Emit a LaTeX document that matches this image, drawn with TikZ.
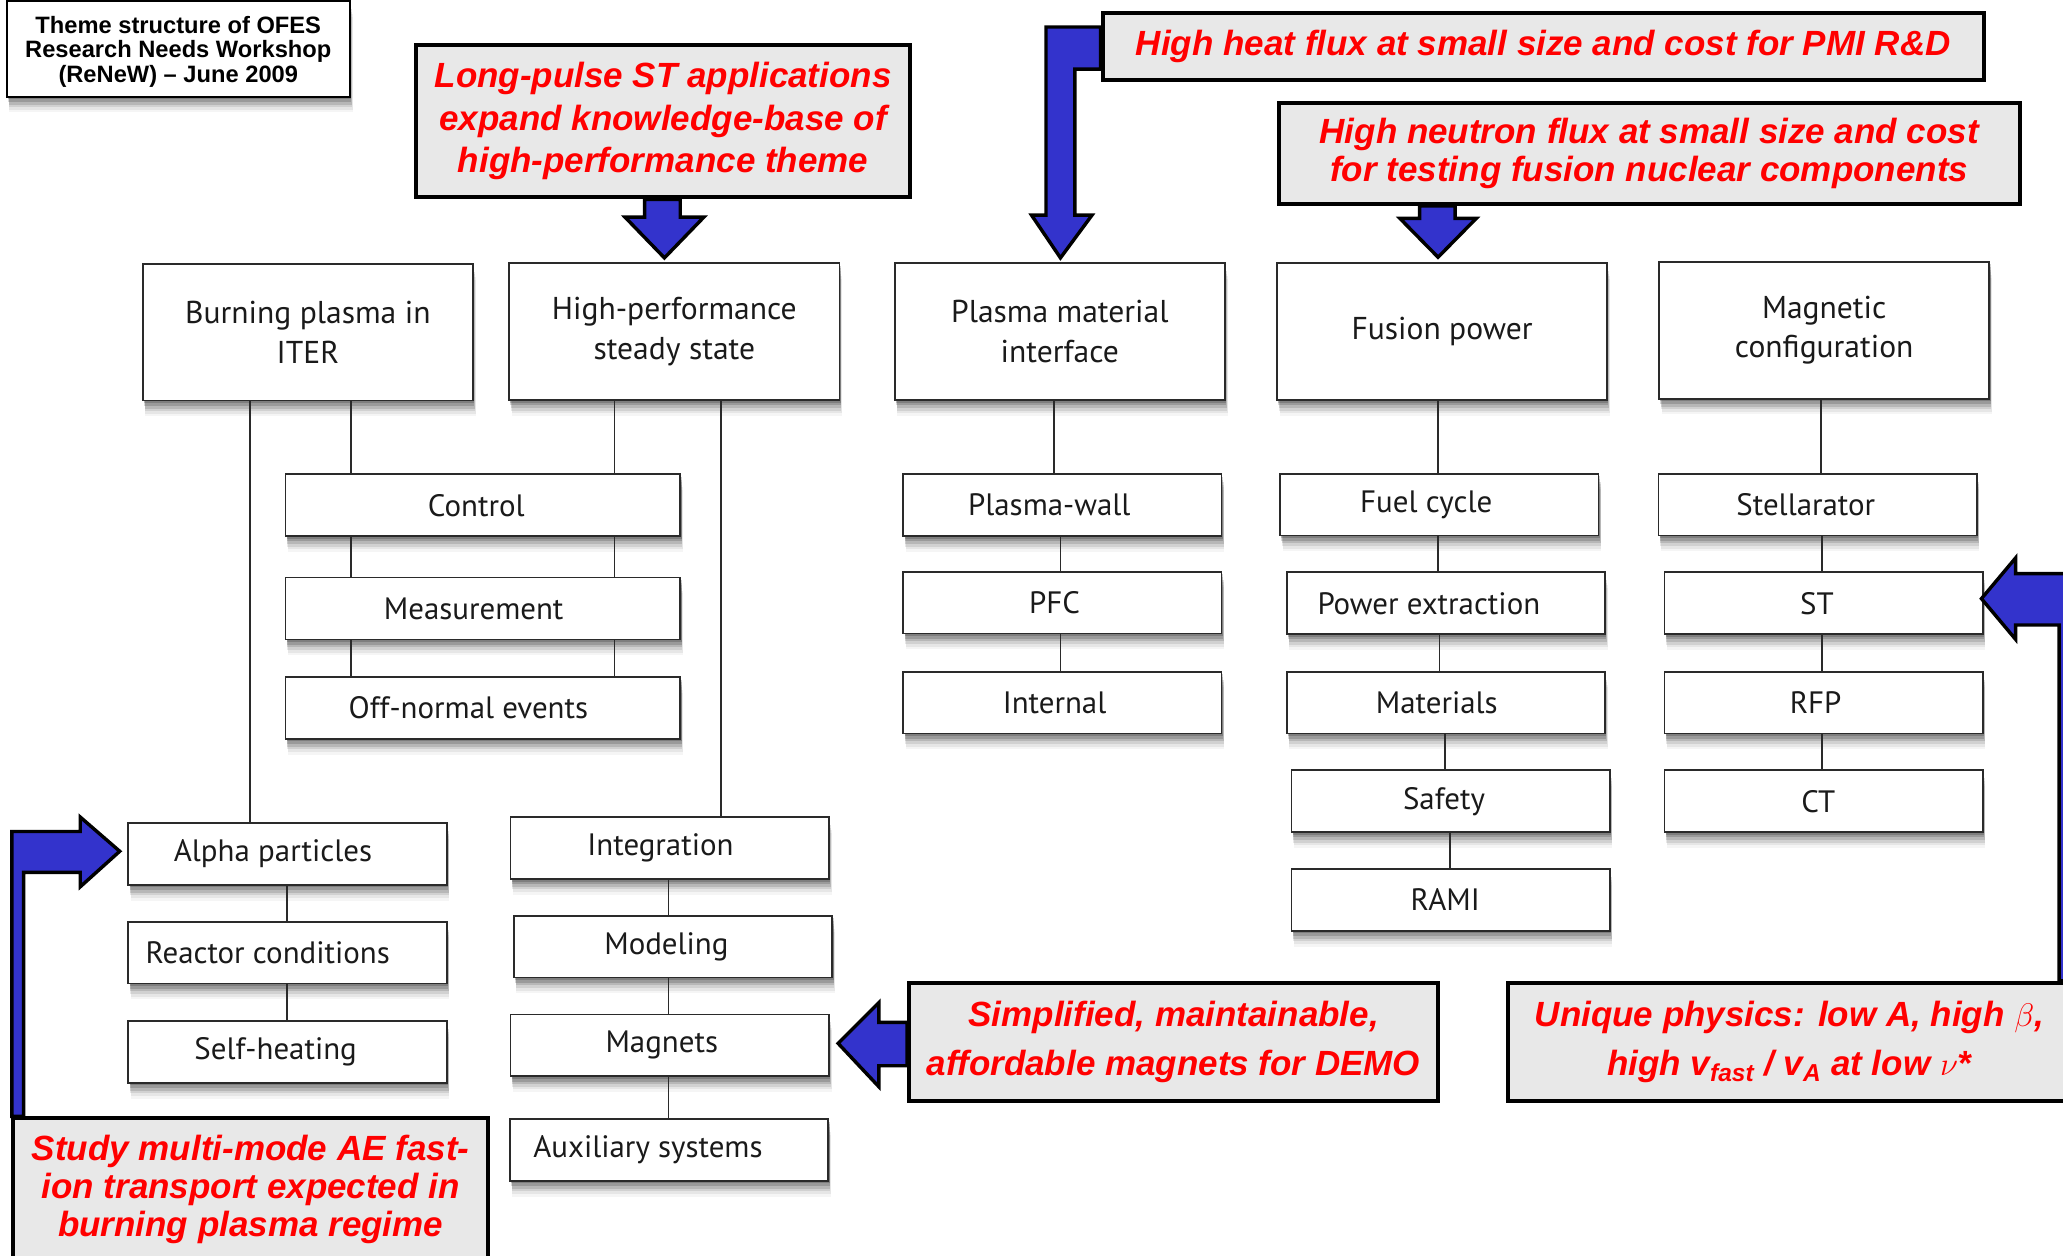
\documentclass[tikz,border=0pt]{standalone}
\usepackage{fontspec}
\setmainfont{PT Sans}
\newfontfamily\notefont{Liberation Sans}
\usepackage{tikz}
\usetikzlibrary{shadows}

\definecolor{arrowblue}{HTML}{3333CC}
\definecolor{notegray}{HTML}{E8E8E8}
\definecolor{boxline}{HTML}{2A2A2A}
\definecolor{boxtext}{HTML}{1A1A1A}

\tikzset{
  boxshadow/.style={drop shadow={shadow xshift=1pt, shadow yshift=-2pt, opacity=.18, fill=black},
                    drop shadow={shadow xshift=1pt, shadow yshift=-4pt, opacity=.15, fill=black},
                    drop shadow={shadow xshift=1.5pt, shadow yshift=-6pt, opacity=.12, fill=black},
                    drop shadow={shadow xshift=1.5pt, shadow yshift=-8pt, opacity=.09, fill=black},
                    drop shadow={shadow xshift=2pt, shadow yshift=-10pt, opacity=.06, fill=black},
                    drop shadow={shadow xshift=2pt, shadow yshift=-12pt, opacity=.04, fill=black}},
  theme/.style={draw=boxline, line width=1.3pt, fill=white, boxshadow, text=boxtext,
                minimum width=251pt, minimum height=104pt, inner sep=0pt, align=center,
                font=\fontsize{24}{30}\selectfont},
  topic/.style={draw=boxline, line width=1.3pt, fill=white, boxshadow, text=boxtext,
                minimum width=242pt, minimum height=47pt, inner sep=0pt,
                font=\fontsize{23.5}{28}\selectfont},
  note/.style={draw=black, line width=3pt, fill=notegray, text=red, inner sep=0pt, align=center,
               font=\notefont\bfseries\itshape\fontsize{26.6}{#1}\selectfont},
  note/.default=32,
  bluearrow/.style={fill=arrowblue, draw=black, line width=2.6pt, line join=miter}
}

\begin{document}
\begin{tikzpicture}[x=1pt, y=-1pt]
   \useasboundingbox (0,0) rectangle (1568,954);
   \clip (0,0) rectangle (1568,954);
   \fill [white] (0,0) rectangle (1568,954);

   \node (title) [draw=black, line width=1.5pt, fill=white, boxshadow, minimum width=261pt,
      minimum height=72.5pt, inner sep=0pt, align=center,
      font=\notefont\bfseries\fontsize{18}{18.7}\selectfont] at (135.5,37.25)
      {\rule{0pt}{17pt}Theme structure of OFES\\Research Needs Workshop\\(ReNeW) – June 2009};

   \begin{scope}[every node/.style={theme}]
    \node (burn) at (234,252.5) {Burning plasma in\\ITER};
    \node (hpss) at (512.5,252) {High-performance\\steady state};
    \node (pmi)  at (805.5,252) {Plasma material\\interface};
    \node (fus)  at (1096,252) {Fusion power};
    \node (mag)  at (1386.5,251) {Magnetic\\configuration};
   \end{scope}

   \begin{scope}[every node/.style={topic}]
    \node (ctrl) [minimum width=300pt] at (367,384) {Control\hspace*{10pt}};
    \node (meas) [minimum width=300pt] at (367,462.5) {Measurement\hspace*{14pt}};
    \node (offn) [minimum width=300pt] at (367,538) {Off-normal events\hspace*{22pt}};
    \node (alpha) at (218.5,649) {Alpha particles\hspace*{22pt}};
    \node (react) at (218.5,724) {Reactor conditions\hspace*{30pt}};
    \node (selfh) at (218.5,799.5) {Self-heating\hspace*{18pt}};
    \node (integ) at (509,644.5) {Integration\hspace*{14pt}};
    \node (model) at (511.5,719.5) {Modeling\hspace*{10pt}};
    \node (magnt) at (509,794.5) {Magnets\hspace*{12pt}};
    \node (auxs)  at (508.5,874) {Auxiliary systems\hspace*{32pt}};
    \node (pwall) at (807.5,384) {Plasma-wall\hspace*{20pt}};
    \node (pfc)   at (807.5,458) {PFC\hspace*{12pt}};
    \node (intl)  at (807.5,534) {Internal\hspace*{12pt}};
    \node (fuel)  at (1094,383.5) {Fuel cycle\hspace*{20pt}};
    \node (powx)  at (1099,458.5) {Power extraction\hspace*{26pt}};
    \node (matl)  at (1099,534) {Materials\hspace*{14pt}};
    \node (safe)  at (1102.5,609) {Safety\hspace*{10pt}};
    \node (rami)  at (1102.5,684) {RAMI\hspace*{8pt}};
    \node (stell) at (1381.5,383.5) {Stellarator\hspace*{18pt}};
    \node (st)    at (1386,458.5) {ST\hspace*{10pt}};
    \node (rfp)   at (1386,534) {RFP\hspace*{12pt}};
    \node (ct)    at (1386,609) {CT\hspace*{8pt}};
   \end{scope}

   \begin{scope}[every edge/.style={draw=boxline, line width=1.3pt}]
    \draw (burn.south -| 190,0) edge (alpha.north -| 190,0);
    \draw (burn.south -| 267,0) edge (ctrl.north -| 267,0);
    \draw (ctrl.south -| 267,0) edge (meas.north -| 267,0);
    \draw (meas.south -| 267,0) edge (offn.north -| 267,0);
    \draw (hpss.south -| 467,0) edge (ctrl.north -| 467,0);
    \draw (ctrl.south -| 467,0) edge (meas.north -| 467,0);
    \draw (meas.south -| 467,0) edge (offn.north -| 467,0);
    \draw (hpss.south -| 548,0) edge (integ.north -| 548,0);
    \draw (alpha.south -| 218,0) edge (react.north -| 218,0);
    \draw (react.south -| 218,0) edge (selfh.north -| 218,0);
    \draw (integ.south -| 508,0) edge (model.north -| 508,0);
    \draw (model.south -| 508,0) edge (magnt.north -| 508,0);
    \draw (magnt.south -| 508,0) edge (auxs.north -| 508,0);
    \draw (pmi.south -| 801,0) edge (pwall.north -| 801,0);
    \draw (pwall.south -| 806,0) edge (pfc.north -| 806,0);
    \draw (pfc.south -| 806,0) edge (intl.north -| 806,0);
    \draw (fus.south -| 1093,0) edge (fuel.north -| 1093,0);
    \draw (fuel.south -| 1093,0) edge (powx.north -| 1093,0);
    \draw (powx.south -| 1094,0) edge (matl.north -| 1094,0);
    \draw (matl.south -| 1098,0) edge (safe.north -| 1098,0);
    \draw (safe.south -| 1102,0) edge (rami.north -| 1102,0);
    \draw (mag.south -| 1384,0) edge (stell.north -| 1384,0);
    \draw (stell.south -| 1385,0) edge (st.north -| 1385,0);
    \draw (st.south -| 1385,0) edge (rfp.north -| 1385,0);
    \draw (rfp.south -| 1385,0) edge (ct.north -| 1385,0);
   \end{scope}

   \node (lpst)  [note, minimum width=376pt, minimum height=116pt] at (504,92)
      {Long-pulse ST applications\\expand knowledge-base of\\high-performance theme};
   \node (hheat) [note, minimum width=670pt, minimum height=51pt] at (1173,35.5)
      {High heat flux at small size and cost for PMI R\&D};
   \node (hneut) [note=29, minimum width=563pt, minimum height=77pt] at (1253.5,116.5)
      {High neutron flux at small size and cost\\for testing fusion nuclear components};
   \node (study) [note=29, minimum width=361pt, minimum height=108pt] at (190.5,904)
      {Study multi-mode AE fast-\\ion transport expected in\\burning plasma regime};
   \node (simp)  [note=37, minimum width=402pt, minimum height=90pt] at (892,792)
      {Simplified, maintainable,\\affordable magnets for DEMO};
   \node (uniq)  [note=37, minimum width=428pt, minimum height=90pt] at (1360,792)
      {Unique physics: low A, high $\beta$,\\high v\textsubscript{fast} / v\textsubscript{A} at low $\nu$*};

   % block arrows from the notes
   \draw [bluearrow] (lpst.south -| 490,0) -- (490,165) -- (475,165) -- (505,196)
      -- (535,165) -- (517,165) -- (lpst.south -| 517,0) -- cycle;
   \draw [bluearrow] (hheat.west |- 0,20.5) -- (795,20.5) -- (795,163.5) -- (784,163.5)
      -- (806,196) -- (830,163.5) -- (817,163.5) -- (817,52.5) -- (hheat.west |- 0,52.5) -- cycle;
   \draw [bluearrow] (hneut.south -| 1079,0) -- (1079,166) -- (1064,166) -- (1093,195.5)
      -- (1122,166) -- (1106,166) -- (hneut.south -| 1106,0) -- cycle;
   \draw [bluearrow] (simp.west |- 0,777) -- (668,777) -- (668,762) -- (637,793)
      -- (668,826) -- (668,810) -- (simp.west |- 0,810) -- cycle;
   \draw [bluearrow] (study.north -| 9,0) -- (9,632) -- (61,632) -- (61,621) -- (91,647)
      -- (61,674) -- (61,663) -- (18,663) -- (study.north -| 18,0) -- cycle;
   \draw [bluearrow] (uniq.north -| 1565,0) -- (1565,475) -- (1532,475) -- (1532,486)
      -- (1506,455) -- (1532,424) -- (1532,436) -- (1620,436) -- (uniq.north -| 1620,0) -- cycle;
\end{tikzpicture}
\end{document}
